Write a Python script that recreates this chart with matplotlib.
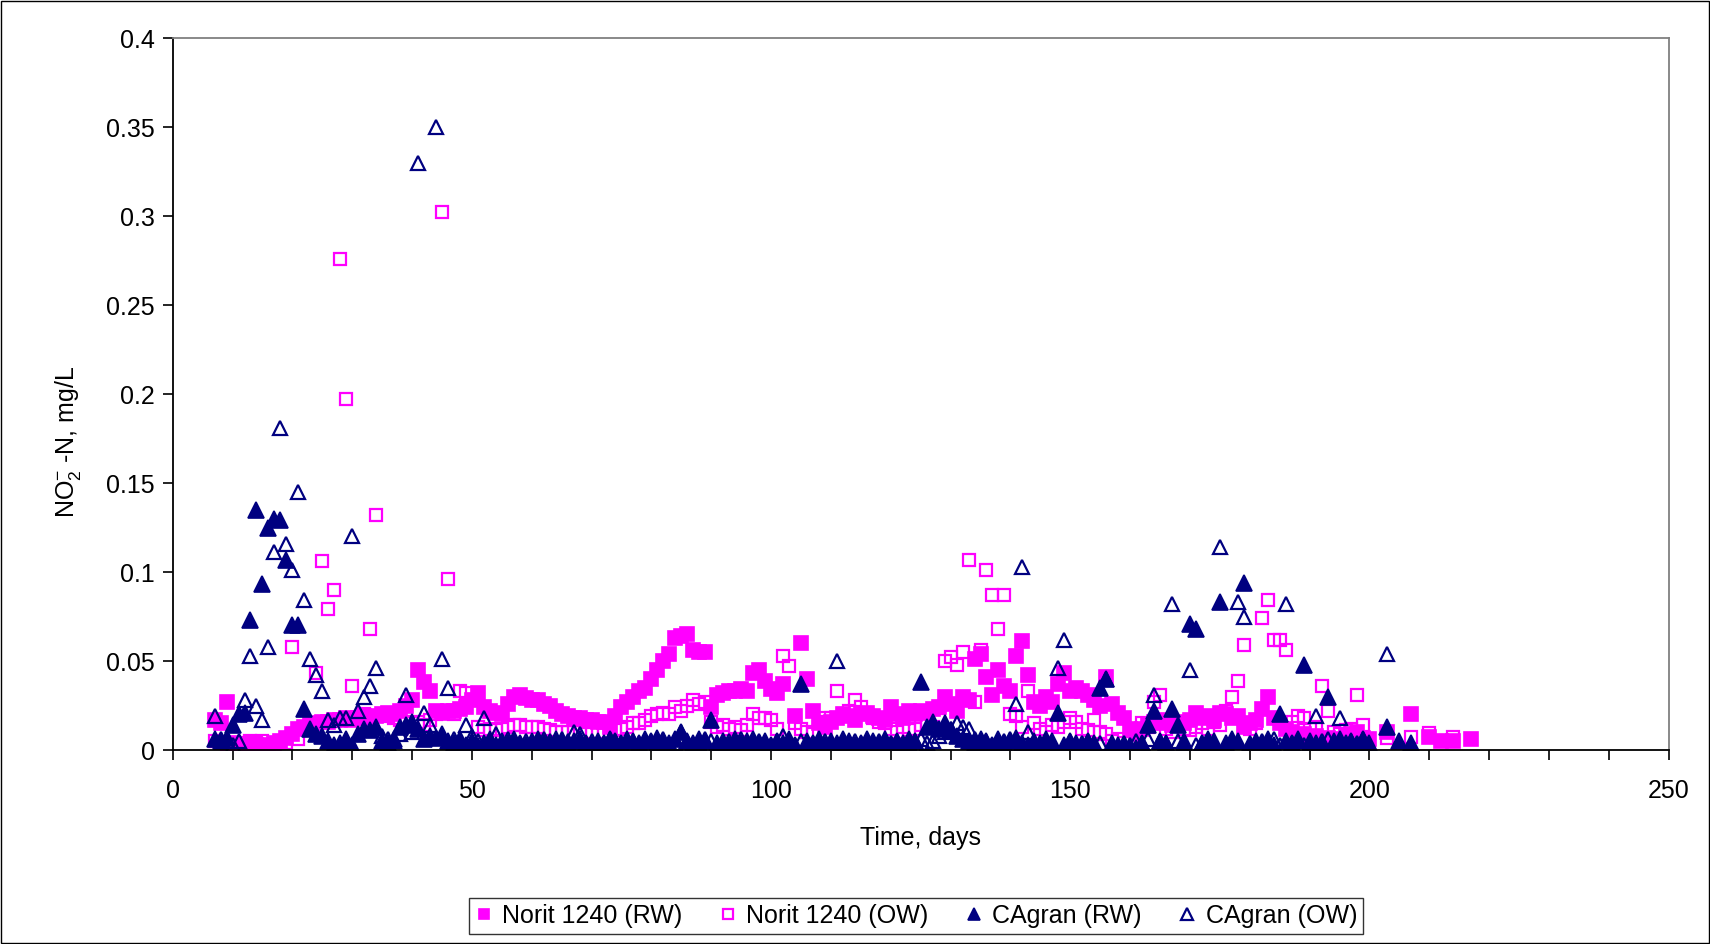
import matplotlib
matplotlib.use("Agg")
import matplotlib.pyplot as plt
from matplotlib.ticker import MultipleLocator, FuncFormatter
from matplotlib.patches import Rectangle

plt.rcParams['font.family'] = ['Liberation Sans', 'DejaVu Sans']
plt.rcParams['mathtext.fontset'] = 'custom'
plt.rcParams['mathtext.rm'] = 'Liberation Sans'
plt.rcParams['mathtext.it'] = 'Liberation Sans'

# ---------------- data ----------------
norit_rw_days = list(range(7, 201)) + [203, 207, 210, 212, 214, 217]
norit_rw = [
    0.017, 0.015, 0.027, 0.004, 0.003, 0.003, 0.002, 0.003, 0.002, 0.003,
    0.004, 0.005, 0.007, 0.009, 0.012, 0.013, 0.014, 0.015, 0.016, 0.016,
    0.017, 0.017, 0.018, 0.017, 0.018, 0.019, 0.018, 0.019, 0.020, 0.021,
    0.020, 0.022, 0.025, 0.028, 0.045, 0.038, 0.033, 0.022, 0.021, 0.022,
    0.022, 0.023, 0.024, 0.028, 0.032, 0.024, 0.022, 0.021, 0.020, 0.026,
    0.030, 0.031, 0.029, 0.028, 0.028, 0.026, 0.025, 0.022, 0.020, 0.019,
    0.018, 0.018, 0.017, 0.017, 0.016, 0.016, 0.013, 0.019, 0.024, 0.027,
    0.030, 0.033, 0.035, 0.040, 0.045, 0.050, 0.054, 0.063, 0.064, 0.065,
    0.056, 0.055, 0.055, 0.024, 0.031, 0.032, 0.033, 0.033, 0.034, 0.033,
    0.043, 0.045, 0.039, 0.034, 0.032, 0.037, 0.001, 0.019, 0.060, 0.040,
    0.022, 0.015, 0.013, 0.016, 0.018, 0.020, 0.019, 0.017, 0.020, 0.021,
    0.019, 0.018, 0.017, 0.024, 0.020, 0.018, 0.022, 0.020, 0.022, 0.021,
    0.023, 0.024, 0.030, 0.026, 0.022, 0.030, 0.028, 0.051, 0.054, 0.041,
    0.031, 0.045, 0.036, 0.033, 0.053, 0.061, 0.042, 0.027, 0.025, 0.030,
    0.027, 0.037, 0.043, 0.033, 0.035, 0.033, 0.031, 0.028, 0.025, 0.041,
    0.026, 0.021, 0.018, 0.012, 0.009, 0.012, 0.014, 0.016, 0.015, 0.017,
    0.014, 0.016, 0.015, 0.017, 0.021, 0.018, 0.019, 0.017, 0.021, 0.020,
    0.018, 0.019, 0.013, 0.015, 0.017, 0.023, 0.030, 0.018, 0.015, 0.012,
    0.010, 0.008, 0.009, 0.007, 0.008, 0.006, 0.007, 0.005, 0.006, 0.008,
    0.009, 0.010, 0.007, 0.006,
    0.010, 0.020, 0.0075, 0.005, 0.005, 0.006,
]

norit_ow_days = list(range(7, 200)) + [203, 207, 210, 214]
norit_ow = [
    0.005, 0.004, 0.003, 0.004, 0.003, 0.004, 0.005, 0.004, 0.005, 0.003,
    0.004, 0.005, 0.004, 0.058, 0.006, 0.012, 0.014, 0.043, 0.106, 0.079,
    0.090, 0.276, 0.197, 0.036, 0.018, 0.020, 0.068, 0.132, 0.020, 0.019,
    0.018, 0.017, 0.016, 0.015, 0.016, 0.014, 0.017, 0.020, 0.302, 0.096,
    0.020, 0.033, 0.032, 0.028, 0.013, 0.011, 0.012, 0.011, 0.012, 0.013,
    0.014, 0.014, 0.013, 0.013, 0.013, 0.012, 0.011, 0.010, 0.010, 0.010,
    0.010, 0.010, 0.009, 0.010, 0.010, 0.009, 0.010, 0.011, 0.012, 0.013,
    0.015, 0.015, 0.017, 0.019, 0.020, 0.021, 0.020, 0.024, 0.022, 0.025,
    0.028, 0.026, 0.027, 0.016, 0.013, 0.014, 0.012, 0.013, 0.011, 0.014,
    0.020, 0.018, 0.018, 0.017, 0.012, 0.053, 0.047, 0.015, 0.012, 0.010,
    0.009, 0.016, 0.018, 0.018, 0.033, 0.020, 0.022, 0.028, 0.024, 0.020,
    0.018, 0.016, 0.015, 0.012, 0.010, 0.013, 0.011, 0.012, 0.014, 0.015,
    0.013, 0.017, 0.050, 0.052, 0.048, 0.055, 0.107, 0.027, 0.056, 0.101,
    0.087, 0.068, 0.087, 0.020, 0.019, 0.013, 0.033, 0.015, 0.012, 0.010,
    0.014, 0.013, 0.016, 0.018, 0.016, 0.012, 0.011, 0.017, 0.010, 0.009,
    0.005, 0.006, 0.004, 0.005, 0.011, 0.015, 0.013, 0.027, 0.031, 0.012,
    0.010, 0.014, 0.012, 0.011, 0.013, 0.015, 0.012, 0.016, 0.014, 0.022,
    0.030, 0.039, 0.059, 0.012, 0.015, 0.074, 0.084, 0.062, 0.062, 0.056,
    0.016, 0.019, 0.018, 0.012, 0.013, 0.036, 0.022, 0.010, 0.009, 0.011,
    0.012, 0.031, 0.014,
    0.007, 0.0075, 0.0094, 0.0075,
]

cagran_rw_days = list(range(7, 201)) + [203, 205, 207]
cagran_rw = [
    0.006, 0.005, 0.007, 0.014, 0.020, 0.021, 0.073, 0.135, 0.093, 0.125,
    0.130, 0.129, 0.107, 0.070, 0.070, 0.023, 0.012, 0.009, 0.008, 0.005,
    0.003, 0.004, 0.006, 0.003, 0.009, 0.012, 0.011, 0.013, 0.005, 0.004,
    0.006, 0.013, 0.014, 0.016, 0.012, 0.006, 0.008, 0.007, 0.009, 0.005,
    0.004, 0.006, 0.003, 0.005, 0.002, 0.004, 0.006, 0.003, 0.005, 0.004,
    0.006, 0.004, 0.003, 0.005, 0.006, 0.004, 0.003, 0.006, 0.005, 0.004,
    0.005, 0.006, 0.004, 0.003, 0.005, 0.004, 0.006, 0.005, 0.004, 0.006,
    0.005, 0.004, 0.006, 0.005, 0.007, 0.005, 0.004, 0.006, 0.010, 0.005,
    0.004, 0.006, 0.005, 0.017, 0.004, 0.005, 0.003, 0.006, 0.004, 0.005,
    0.006, 0.004, 0.005, 0.003, 0.005, 0.004, 0.006, 0.003, 0.037, 0.005,
    0.004, 0.006, 0.003, 0.005, 0.004, 0.006, 0.005, 0.003, 0.004, 0.006,
    0.005, 0.004, 0.006, 0.003, 0.005, 0.004, 0.006, 0.005, 0.038, 0.013,
    0.016, 0.012, 0.015, 0.011, 0.008, 0.006, 0.005, 0.004, 0.006, 0.005,
    0.003, 0.006, 0.004, 0.005, 0.007, 0.004, 0.003, 0.005, 0.004, 0.006,
    0.005, 0.021, 0.003, 0.005, 0.004, 0.003, 0.005, 0.004, 0.035, 0.040,
    0.004, 0.003, 0.002, 0.001, 0.001, 0.004, 0.014, 0.022, 0.005, 0.004,
    0.023, 0.014, 0.005, 0.071, 0.068, 0.004, 0.006, 0.005, 0.083, 0.004,
    0.006, 0.005, 0.094, 0.003, 0.005, 0.004, 0.006, 0.003, 0.020, 0.005,
    0.004, 0.006, 0.048, 0.005, 0.004, 0.003, 0.030, 0.005, 0.006, 0.004,
    0.005, 0.003, 0.006, 0.004,
    0.013, 0.005, 0.004,
]

cagran_ow_days = list(range(7, 200)) + [203]
cagran_ow = [
    0.019, 0.006, 0.005, 0.003, 0.005, 0.028, 0.053, 0.025, 0.017, 0.058,
    0.111, 0.181, 0.116, 0.101, 0.145, 0.084, 0.051, 0.042, 0.033, 0.017,
    0.014, 0.018, 0.018, 0.120, 0.022, 0.030, 0.036, 0.046, 0.008, 0.006,
    0.005, 0.009, 0.031, 0.010, 0.330, 0.021, 0.014, 0.350, 0.051, 0.035,
    0.006, 0.004, 0.014, 0.008, 0.005, 0.018, 0.004, 0.009, 0.004, 0.006,
    0.005, 0.004, 0.005, 0.000, 0.004, 0.006, 0.005, 0.004, 0.006, 0.005,
    0.010, 0.009, 0.004, 0.005, 0.003, 0.004, 0.006, 0.005, 0.004, 0.003,
    0.005, 0.004, 0.003, 0.005, 0.004, 0.006, 0.003, 0.004, 0.010, 0.005,
    0.003, 0.004, 0.006, 0.005, 0.003, 0.004, 0.005, 0.003, 0.006, 0.004,
    0.003, 0.005, 0.004, 0.003, 0.005, 0.008, 0.004, 0.003, 0.005, 0.000,
    0.004, 0.003, 0.005, 0.000, 0.050, 0.004, 0.003, 0.005, 0.004, 0.003,
    0.004, 0.005, 0.003, 0.004, 0.005, 0.003, 0.004, 0.005, 0.006, 0.004,
    0.005, 0.008, 0.010, 0.012, 0.015, 0.013, 0.012, 0.006, 0.004, 0.005,
    0.003, 0.004, 0.005, 0.006, 0.026, 0.103, 0.010, 0.004, 0.003, 0.005,
    0.004, 0.046, 0.062, 0.005, 0.003, 0.004, 0.005, 0.003, 0.004, 0.040,
    0.003, 0.002, 0.004, 0.003, 0.005, 0.004, 0.006, 0.031, 0.005, 0.004,
    0.082, 0.005, 0.004, 0.045, 0.003, 0.004, 0.005, 0.004, 0.114, 0.003,
    0.005, 0.083, 0.075, 0.004, 0.003, 0.005, 0.004, 0.006, 0.003, 0.082,
    0.004, 0.005, 0.003, 0.004, 0.019, 0.005, 0.006, 0.004, 0.018, 0.003,
    0.005, 0.004, 0.006,
    0.054,
]

series_labels = ["Norit 1240 (RW)", "Norit 1240 (OW)", "CAgran (RW)", "CAgran (OW)"]
x_ticks = [0, 50, 100, 150, 200, 250]
y_ticks = [0, 0.05, 0.1, 0.15, 0.2, 0.25, 0.3, 0.35, 0.4]

# ---------------- figure ----------------
MAG = "#FF00FF"
NAVY = "#000080"
FS = 18

fig = plt.figure(figsize=(17.10, 9.44), dpi=100)
ax = fig.add_axes([0.101, 0.2055, 0.8748, 0.7542])

ax.plot(norit_rw_days, norit_rw, linestyle="none", marker="s", ms=9.5,
        mfc=MAG, mec=MAG, mew=1.2, label=series_labels[0])
ax.plot(norit_ow_days, norit_ow, linestyle="none", marker="s", ms=9,
        mfc="none", mec=MAG, mew=1.6, label=series_labels[1])
ax.plot(cagran_rw_days, cagran_rw, linestyle="none", marker="^", ms=11,
        mfc=NAVY, mec=NAVY, mew=1.2, label=series_labels[2])
ax.plot(cagran_ow_days, cagran_ow, linestyle="none", marker="^", ms=10.5,
        mfc="none", mec=NAVY, mew=1.6, label=series_labels[3])

ax.set_xlim(0, 250)
ax.set_ylim(0, 0.4)
ax.set_xticks(x_ticks)
ax.set_yticks(y_ticks)
ax.xaxis.set_minor_locator(MultipleLocator(10))
ax.yaxis.set_major_formatter(FuncFormatter(lambda v, p: "%g" % v))

ax.tick_params(axis="both", which="both", direction="out", length=7,
               width=1.2, color="black", labelsize=FS)
ax.tick_params(axis="x", which="both", pad=14)
ax.tick_params(axis="y", which="both", pad=6)

for s in ["left", "bottom"]:
    ax.spines[s].set_color("black")
    ax.spines[s].set_linewidth(1.3)
for s in ["top", "right"]:
    ax.spines[s].set_color("#808080")
    ax.spines[s].set_linewidth(1.3)

ax.set_xlabel("Time, days", fontsize=FS)
ax.xaxis.label.set_va("center")
ax.xaxis.set_label_coords(0.5, -0.1236)
ax.set_ylabel(r"NO$_2^{-}$ -N, mg/L", fontsize=FS)
ax.yaxis.label.set_va("center")
ax.yaxis.set_label_coords(-0.0703, 0.4326)

leg = fig.legend(loc="center", bbox_to_anchor=(0.5357, 0.0297), ncol=4,
                 fontsize=FS, frameon=True, fancybox=False,
                 edgecolor="black", handlelength=0.7, handletextpad=0.4,
                 columnspacing=1.45, borderpad=0.25, markerscale=0.8)
leg.get_frame().set_linewidth(1.0)

fig.patches.append(Rectangle((0.0005, 0.0008), 0.999, 0.9985,
                             transform=fig.transFigure, fill=False,
                             edgecolor="black", linewidth=1.0))

fig.savefig("out.png", dpi=100)
